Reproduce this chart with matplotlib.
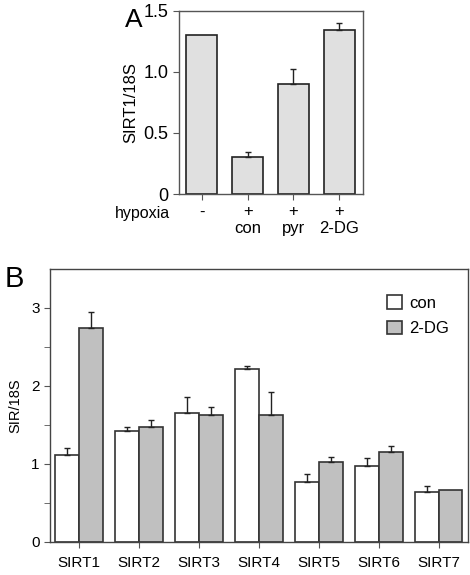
import matplotlib.pyplot as plt
import numpy as np

plt.rcParams['font.family'] = ['Liberation Sans', 'DejaVu Sans']

# Panel A data
a_groups = ['-', '+\ncon', '+\npyr', '+\n2-DG']
a_vals = [1.30, 0.30, 0.90, 1.34]
a_err = [0.0, 0.045, 0.12, 0.06]

# Panel B data
b_genes = ['SIRT1', 'SIRT2', 'SIRT3', 'SIRT4', 'SIRT5', 'SIRT6', 'SIRT7']
b_con = [1.11, 1.42, 1.66, 2.22, 0.77, 0.98, 0.64]
b_con_err = [0.09, 0.05, 0.20, 0.04, 0.10, 0.10, 0.08]
b_dg = [2.74, 1.47, 1.63, 1.63, 1.03, 1.16, 0.67]
b_dg_err = [0.21, 0.10, 0.10, 0.29, 0.06, 0.07, 0.0]

ekw = dict(fmt='none', ecolor='#222222', elinewidth=1.0, capsize=2.5, capthick=1.0)


def up_err(ax, xs, vals, errs):
    # only upper error bars, skip the ones that are zero
    idx = [i for i, e in enumerate(errs) if e > 0]
    xs = np.asarray(xs)[idx]
    v = np.asarray(vals)[idx]
    e = np.asarray(errs)[idx]
    ax.errorbar(xs, v, yerr=[np.zeros(len(e)), e], **ekw)


fig = plt.figure(figsize=(4.7, 5.75), dpi=100)

# ---- Panel A ----
ax = fig.add_axes([0.381, 0.6626, 0.391, 0.3188])
x = np.arange(len(a_vals))
ax.bar(x, a_vals, width=0.68, color='#e0e0e0', edgecolor='#222222', linewidth=1.2)
up_err(ax, x, a_vals, a_err)
ax.set_xlim(-0.5, 3.52)
ax.set_ylim(0, 1.5)
ax.set_yticks([0, 0.5, 1.0, 1.5])
ax.set_yticklabels(['0', '0.5', '1.0', '1.5'])
ax.set_xticks(x)
ax.set_xticklabels(a_groups, linespacing=1.1)
ax.tick_params(axis='y', labelsize=13, length=4, color='#555555', direction='out')
ax.tick_params(axis='x', labelsize=12, length=4, color='#555555', direction='out')
ax.set_ylabel('SIRT1/18S', fontsize=12)
for s in ax.spines.values():
    s.set_color('#555555')
    s.set_linewidth(1.0)
fig.text(0.245, 0.628, 'hypoxia', fontsize=11.5, ha='left', va='center')
fig.text(0.265, 0.966, 'A', fontsize=19, ha='left', va='center')

# ---- Panel B ----
bx = fig.add_axes([0.1064, 0.0574, 0.889, 0.4748])
xb = np.arange(len(b_genes))
w = 0.4
bx.bar(xb - w / 2, b_con, width=w, color='white', edgecolor='#333333', linewidth=1.2, label='con')
bx.bar(xb + w / 2, b_dg, width=w, color='#c0c0c0', edgecolor='#333333', linewidth=1.2, label='2-DG')
up_err(bx, xb - w / 2, b_con, b_con_err)
up_err(bx, xb + w / 2, b_dg, b_dg_err)
bx.set_xlim(-0.49, 6.49)
bx.set_ylim(0, 3.5)
bx.set_yticks([0, 1, 2, 3])
bx.set_yticks([0.5, 1.5, 2.5], minor=True)
bx.set_xticks(xb)
bx.set_xticklabels(b_genes)
bx.tick_params(labelsize=11, length=4, color='#555555', direction='out')
bx.tick_params(axis='x', pad=6)
bx.tick_params(which='minor', length=4, color='#555555')
bx.set_ylabel('SIR/18S', fontsize=10.5, labelpad=6)
for s in bx.spines.values():
    s.set_color('#444444')
    s.set_linewidth(1.0)
bx.legend(loc='upper right', bbox_to_anchor=(0.99, 0.96), frameon=False, fontsize=12,
          handlelength=0.9, handleheight=0.9, handletextpad=0.4, labelspacing=0.6)
fig.text(0.01, 0.515, 'B', fontsize=21, ha='left', va='center')

plt.savefig('out.png', dpi=100)
plt.close()
